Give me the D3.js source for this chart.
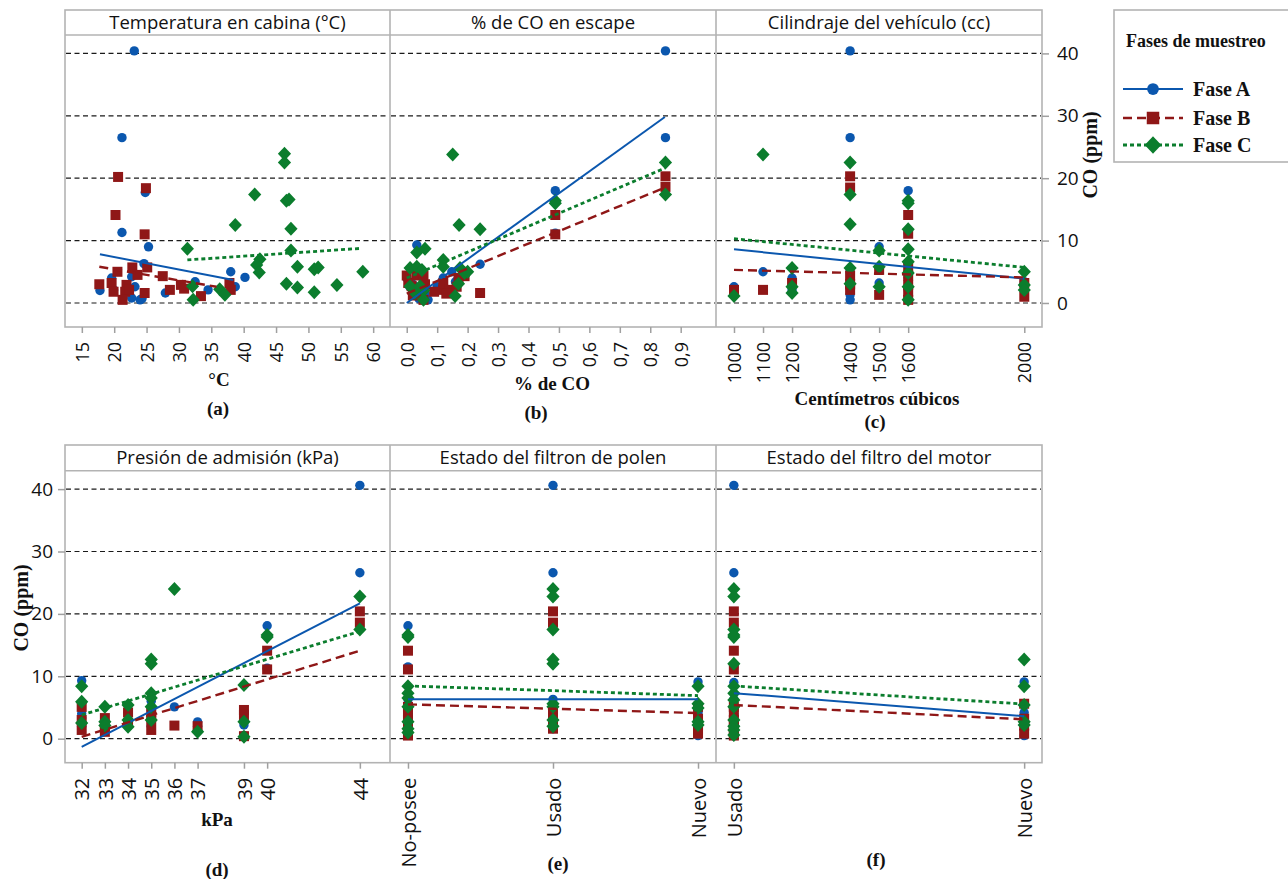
<!DOCTYPE html>
<html>
<head>
<meta charset="utf-8">
<title>CO (ppm) por fase de muestreo</title>
<script src="https://d3js.org/d3.v7.min.js"></script>
<style>
  body { margin: 0; background: #fff; }
  svg text { fill: #111; }
  .sans { font-family: "Open Sans", "Noto Sans", sans-serif; }
  .serif { font-family: "Liberation Serif", "Times New Roman", serif; font-weight: bold; }
  .tick line { stroke: #a0a0a0; stroke-width: 1.5; }
</style>
</head>
<body>
<svg id="chart" width="1288" height="879"></svg>
<script>

// series names
var phases = ["Fase A", "Fase B", "Fase C"];
var yTicks = [0, 10, 20, 30, 40];

// (a) temperatura en cabina: [°C, CO ppm]
var tempTicks = [15, 20, 25, 30, 35, 40, 45, 50, 55, 60];
var temA = [[23.1,40.4],[21.2,26.5],[24.8,17.7],[21.2,11.3],[25.3,9.0],[24.6,6.3],[19.6,4.0],[17.8,2.0],[19.9,2.1],[22.7,4.2],
            [23.2,2.6],[22.7,0.8],[24.0,0.5],[24.3,0.7],[27.9,1.6],[32.5,3.4],[34.5,2.1],[38.0,5.0],[40.2,4.1],[38.7,2.6]];
var temB = [[20.6,20.2],[24.9,18.4],[20.2,14.1],[24.7,11.0],[22.8,5.7],[25.1,5.7],[20.5,5.0],[23.6,4.5],[27.5,4.3],[17.7,3.0],
            [19.6,3.2],[21.9,2.9],[19.9,1.8],[21.7,1.8],[22.3,2.1],[21.3,0.5],[24.7,1.6],[28.6,2.1],[30.3,2.9],[30.8,2.3],
            [33.4,1.1],[37.8,3.2],[38.0,2.1]];
var temC = [[31.3,8.7],[41.7,17.4],[38.7,12.5],[46.3,23.9],[46.3,22.5],[46.6,16.4],[47.0,16.6],[47.3,11.9],[47.3,8.4],[42.5,7.0],
            [42.0,6.1],[42.4,4.9],[48.3,5.8],[50.9,5.4],[51.5,5.7],[58.4,5.0],[46.6,3.1],[48.3,2.5],[50.9,1.7],[54.4,2.9],
            [32.1,2.7],[32.2,0.5],[36.3,2.2],[37.1,1.3]];
var fitTemA = [[17.8,7.8],[38.4,3.7]];
var fitTemB = [[17.7,5.8],[35.8,2.6]];
var fitTemC = [[31.3,6.9],[58.1,8.75]];

// (b) % de CO en escape
var coTicks = [0, 0.1, 0.2, 0.3, 0.4, 0.5, 0.6, 0.7, 0.8, 0.9];
var coA = [[0.85,40.4],[0.85,26.5],[0.488,18.0],[0.488,11.2],[0.241,6.2],[0.033,9.3],[0.12,4.0],[0.148,5.0],[0.0,4.0],[0.05,2.0],
           [0.02,3.0],[0.06,1.5],[0.04,0.7],[0.1,2.6],[0.07,0.5],[0.03,2.1],[0.19,4.3],[0.16,3.4],[0.01,2.6],[0.05,4.2]];
var coB = [[0.85,20.3],[0.85,18.6],[0.488,14.1],[0.488,11.0],[0.241,1.6],[0.12,2.1],[0.12,3.2],[0.14,2.1],[0.164,2.6],[0.19,4.3],
           [0.17,4.0],[0.0,4.4],[0.033,4.4],[0.055,4.4],[0.016,2.7],[0.044,1.6],[0.055,0.5],[0.03,2.0],[0.005,3.2],[0.13,1.5],
           [0.06,3.0],[0.09,1.8],[0.02,1.2]];
var coC = [[0.85,22.5],[0.85,17.4],[0.488,16.4],[0.488,16.0],[0.151,23.8],[0.172,12.5],[0.241,11.8],[0.06,8.7],[0.033,8.1],[0.12,6.9],
           [0.12,5.8],[0.175,5.6],[0.19,4.8],[0.17,3.1],[0.159,1.1],[0.011,5.6],[0.033,5.8],[0.05,5.3],[0.011,2.7],[0.027,1.6],
           [0.044,2.7],[0.055,2.0],[0.055,0.5],[0.2,5.0]];
var fitCoA = [[0.0,0.0],[0.848,29.8]];
var fitCoB = [[0.0,1.5],[0.848,18.5]];
var fitCoC = [[0.0,4.0],[0.848,21.6]];

// (c) cilindraje del vehiculo
var ccTicks = [1000, 1100, 1200, 1400, 1500, 1600, 2000];
var ccA = [[1000,2.6],[1100,5.0],[1200,4.0],[1400,40.4],[1400,26.5],[1400,1.3],[1400,5.0],[1400,2.5],[1500,9.0],[1500,3.2],
           [1600,18.0],[1600,6.3],[1600,4.1],[1600,2.1],[1600,0.7],[1600,11.2],[2000,3.4],[2000,2.0],[1200,2.1],[1400,0.5]];
var ccB = [[1000,2.1],[1100,2.1],[1200,3.2],[1400,20.3],[1400,18.5],[1400,4.4],[1400,2.1],[1500,5.3],[1500,1.3],[1600,14.1],
           [1600,11.1],[1600,4.4],[1600,0.5],[1600,2.9],[1600,5.7],[2000,3.2],[2000,1.0],[1400,3.0],[1600,1.8]];
var ccC = [[1000,1.1],[1100,23.8],[1200,5.6],[1200,2.6],[1200,1.6],[1400,22.5],[1400,17.4],[1400,12.6],[1400,5.6],[1400,3.1],
           [1500,8.4],[1500,5.8],[1500,2.6],[1600,16.4],[1600,16.0],[1600,11.8],[1600,8.6],[1600,6.6],[1600,4.8],[1600,2.6],
           [1600,0.5],[2000,5.0],[2000,2.9],[2000,2.1]];
var fitCcA = [[1000,8.6],[2000,3.9]];
var fitCcB = [[1000,5.3],[2000,4.1]];
var fitCcC = [[1000,10.3],[2000,5.7]];

// (d) presion de admision
var kpaTicks = [32, 33, 34, 35, 36, 37, 39, 40, 44];
var kpaA = [[32,9.3],[32,3.3],[34,4.2],[36,5.1],[37,2.7],[39,2.2],[40,18.1],[44,40.6],[44,26.6],[33,2.5],
            [35,4.5],[35,2.0],[34,2.0],[39,0.5],[32,2.0],[33,1.2],[35,6.0],[37,2.0],[40,11.3],[32,4.0]];
var kpaB = [[32,5.1],[32,1.4],[33,3.3],[33,1.1],[34,4.2],[35,4.2],[35,1.4],[36,2.1],[37,2.0],[39,4.6],
            [39,3.8],[39,0.4],[40,14.1],[40,11.1],[44,20.4],[44,18.6],[32,3.0],[34,2.5],[35,3.0],[33,2.0]];
var kpaC = [[32,8.4],[32,5.9],[32,2.5],[33,5.1],[33,2.7],[33,2.1],[34,5.4],[34,3.0],[34,1.9],[35,12.7],
            [35,12.0],[35,7.3],[35,6.5],[35,5.1],[35,3.0],[36,24.0],[37,1.1],[39,8.6],[39,2.7],[39,0.3],
            [40,16.6],[40,16.3],[44,22.8],[44,17.5]];
var fitKpaA = [[32,-1.3],[44,21.7]];
var fitKpaB = [[32,0.3],[44,14.1]];
var fitKpaC = [[32,3.8],[44,17.2]];

// (e) estado del filtro de polen
var polenCats = ["No-posee", "Usado", "Nuevo"];
var polenA = [["No-posee",18.1],["No-posee",11.5],["No-posee",6.3],["No-posee",4.0],["No-posee",2.6],["No-posee",2.0],["No-posee",0.7],["No-posee",3.4],
              ["Usado",40.6],["Usado",26.6],["Usado",6.3],["Usado",5.0],["Usado",2.1],["Usado",4.1],["Usado",1.6],
              ["Nuevo",9.1],["Nuevo",2.6],["Nuevo",0.5],["Nuevo",4.2],["Nuevo",2.0]];
var polenB = [["No-posee",14.1],["No-posee",11.1],["No-posee",5.1],["No-posee",4.2],["No-posee",3.0],["No-posee",2.0],["No-posee",1.0],["No-posee",0.5],
              ["Usado",20.4],["Usado",18.6],["Usado",4.6],["Usado",2.2],["Usado",1.6],["Usado",3.3],
              ["Nuevo",5.1],["Nuevo",0.8],["Nuevo",3.2],["Nuevo",2.1],["Nuevo",1.5]];
var polenC = [["No-posee",16.6],["No-posee",16.3],["No-posee",8.4],["No-posee",7.3],["No-posee",6.5],["No-posee",5.1],["No-posee",2.7],["No-posee",1.0],["No-posee",1.6],
              ["Usado",24.0],["Usado",22.8],["Usado",17.5],["Usado",12.7],["Usado",12.0],["Usado",5.6],["Usado",5.1],["Usado",3.0],["Usado",2.0],
              ["Nuevo",8.4],["Nuevo",5.6],["Nuevo",4.9],["Nuevo",2.7],["Nuevo",2.2]];
var fitPolenA = [6.3, 6.3, 6.3];
var fitPolenB = [5.5, 4.8, 4.1];
var fitPolenC = [8.45, 7.7, 6.9];

// (f) estado del filtro del motor
var motorCats = ["Usado", "Nuevo"];
var motorA = [["Usado",40.6],["Usado",26.6],["Usado",18.1],["Usado",11.5],["Usado",9.0],["Usado",6.3],["Usado",5.0],["Usado",4.0],
              ["Usado",2.6],["Usado",2.0],["Usado",1.0],["Usado",0.5],["Nuevo",9.1],["Nuevo",4.2],["Nuevo",2.6],["Nuevo",0.5]];
var motorB = [["Usado",20.4],["Usado",18.6],["Usado",14.1],["Usado",11.1],["Usado",5.1],["Usado",4.2],["Usado",3.0],["Usado",2.0],
              ["Usado",1.0],["Usado",0.5],["Nuevo",5.6],["Nuevo",0.8],["Nuevo",3.2],["Nuevo",2.1]];
var motorC = [["Usado",24.0],["Usado",22.8],["Usado",17.5],["Usado",16.3],["Usado",16.6],["Usado",12.0],["Usado",8.4],["Usado",7.3],
              ["Usado",6.2],["Usado",5.1],["Usado",3.0],["Usado",2.0],["Usado",1.4],["Usado",0.6],
              ["Nuevo",12.7],["Nuevo",8.4],["Nuevo",5.4],["Nuevo",2.7],["Nuevo",2.2]];
var fitMotorA = [7.3, 3.6];
var fitMotorB = [5.4, 3.1];
var fitMotorC = [8.45, 5.55];

//
// styles and layout

var colors = ["#0b57ae", "#8f1717", "#0b7d2d"];
var dashes = [null, "9,5", "4,3"];
var widths = [2, 2.4, 2.8];
var frameColor = "#b3b3b3";

var cols = [[65, 390], [390, 716], [716, 1042]];
var rows = [{top: 10, head: 35, bottom: 327, fs: 18},
            {top: 445, head: 470.7, bottom: 762.7, fs: 20}];
rows.forEach(function(r) {
  r.y = d3.scaleLinear().domain([-3.85, 42.95]).range([r.bottom, r.head]);
});

var comma1 = function(d) { return d3.format(".1f")(d).replace(".", ","); };

function pairs(cats, vals) {
  return cats.map(function(c, i) { return [c, vals[i]]; });
}

var panels = [
  {row: 0, col: 0, title: "Temperatura en cabina (°C)",
   x: d3.scaleLinear().domain([12.4, 62.6]), ticks: tempTicks, fmt: d3.format("d"),
   data: [temA, temB, temC], fits: [fitTemA, fitTemB, fitTemC],
   xlab: "°C", xlabPos: [219, 386], tag: "(a)", tagPos: [218, 415]},
  {row: 0, col: 1, title: "% de CO en escape",
   x: d3.scaleLinear().domain([-0.055, 1.016]), ticks: coTicks, fmt: comma1,
   data: [coA, coB, coC], fits: [fitCoA, fitCoB, fitCoC],
   xlab: "% de CO", xlabPos: [552, 390], tag: "(b)", tagPos: [536, 419]},
  {row: 0, col: 2, title: "Cilindraje del vehículo (cc)",
   x: d3.scaleLinear().domain([938, 2061]), ticks: ccTicks, fmt: d3.format("d"),
   data: [ccA, ccB, ccC], fits: [fitCcA, fitCcB, fitCcC],
   xlab: "Centímetros cúbicos", xlabPos: [877, 405], tag: "(c)", tagPos: [875, 428]},
  {row: 1, col: 0, title: "Presión de admisión (kPa)",
   x: d3.scaleLinear().domain([31.28, 45.3]), ticks: kpaTicks, fmt: d3.format("d"),
   data: [kpaA, kpaB, kpaC], fits: [fitKpaA, fitKpaB, fitKpaC],
   xlab: "kPa", xlabPos: [217, 826], tag: "(d)", tagPos: [217, 876]},
  {row: 1, col: 1, title: "Estado del filtron de polen",
   x: d3.scalePoint().domain(polenCats).padding(0.124), ticks: polenCats, fmt: String,
   data: [polenA, polenB, polenC],
   fits: [pairs(polenCats, fitPolenA), pairs(polenCats, fitPolenB), pairs(polenCats, fitPolenC)],
   xlab: "", tag: "(e)", tagPos: [558, 870]},
  {row: 1, col: 2, title: "Estado del filtro del motor",
   x: d3.scalePoint().domain(motorCats).padding(0.0615), ticks: motorCats, fmt: String,
   data: [motorA, motorB, motorC],
   fits: [pairs(motorCats, fitMotorA), pairs(motorCats, fitMotorB), pairs(motorCats, fitMotorC)],
   xlab: "", tag: "(f)", tagPos: [876, 866]}
];

var svg = d3.select("#chart");

// marker drawing: circle / square / diamond
function marker(sel, k, s) {
  s = s || 1;
  if (k === 0) {
    sel.append("circle").attr("r", 4.7 * s).attr("fill", colors[0]);
  } else if (k === 1) {
    sel.append("rect").attr("x", -5 * s).attr("y", -5 * s)
       .attr("width", 10 * s).attr("height", 10 * s).attr("fill", colors[1]);
  } else {
    sel.append("path")
       .attr("d", "M0," + (-7 * s) + "L" + (6.6 * s) + ",0L0," + (7 * s) + "L" + (-6.6 * s) + ",0Z")
       .attr("fill", colors[2]);
  }
}

// frames and header strips
rows.forEach(function(r) {
  var g = svg.append("g");
  g.append("rect").attr("x", cols[0][0]).attr("y", r.top)
   .attr("width", cols[2][1] - cols[0][0]).attr("height", r.bottom - r.top)
   .attr("fill", "none").attr("stroke", frameColor).attr("stroke-width", 1.6);
  g.append("line").attr("x1", cols[0][0]).attr("x2", cols[2][1])
   .attr("y1", r.head).attr("y2", r.head)
   .attr("stroke", frameColor).attr("stroke-width", 1.6);
  [cols[1][0], cols[2][0]].forEach(function(xv) {
    g.append("line").attr("x1", xv).attr("x2", xv).attr("y1", r.top).attr("y2", r.bottom)
     .attr("stroke", frameColor).attr("stroke-width", 1.6);
  });
});

// panels
panels.forEach(function(p) {
  var r = rows[p.row], c = cols[p.col], y = r.y, x = p.x.range(c);
  var g = svg.append("g");

  // header title
  g.append("text").attr("class", "sans")
   .attr("x", (c[0] + c[1]) / 2).attr("y", (r.top + r.head) / 2 + 6.5)
   .attr("text-anchor", "middle").attr("font-size", 18.5)
   .text(p.title);

  // reference lines
  g.selectAll(".grid").data(yTicks).enter().append("line")
   .attr("x1", c[0] + 1).attr("x2", c[1] - 1)
   .attr("y1", function(d) { return y(d); }).attr("y2", function(d) { return y(d); })
   .attr("stroke", "#1a1a1a").attr("stroke-width", 1.2).attr("stroke-dasharray", "5,3.5");

  // points
  p.data.forEach(function(pts, k) {
    g.selectAll(".m" + k).data(pts).enter().append("g")
     .attr("transform", function(d) { return "translate(" + x(d[0]) + "," + y(d[1]) + ")"; })
     .each(function() { marker(d3.select(this), k); });
  });

  // fitted lines
  var line = d3.line().x(function(d) { return x(d[0]); }).y(function(d) { return y(d[1]); });
  p.fits.forEach(function(f, k) {
    g.append("path").datum(f).attr("d", line)
     .attr("fill", "none").attr("stroke", colors[k])
     .attr("stroke-width", widths[k])
     .attr("stroke-dasharray", dashes[k]);
  });

  // x axis
  var ax = g.append("g").attr("transform", "translate(0," + r.bottom + ")")
    .call(d3.axisBottom(x).tickValues(p.ticks).tickSize(6).tickFormat(p.fmt));
  ax.select(".domain").remove();
  ax.selectAll("text").attr("class", "sans").attr("font-size", r.fs).attr("fill", "#111")
    .attr("transform", "rotate(-90)").attr("text-anchor", "end")
    .attr("x", -15).attr("y", 0).attr("dy", "0.36em");

  if (p.xlab) {
    g.append("text").attr("class", "serif").attr("font-size", 19)
     .attr("x", p.xlabPos[0]).attr("y", p.xlabPos[1]).attr("text-anchor", "middle")
     .text(p.xlab);
  }
  g.append("text").attr("class", "serif").attr("font-size", 19)
   .attr("x", p.tagPos[0]).attr("y", p.tagPos[1]).attr("text-anchor", "middle")
   .text(p.tag);
});

// y axes: right side on top row, left side on bottom row
var ayR = svg.append("g").attr("transform", "translate(" + cols[2][1] + ",0)")
  .call(d3.axisRight(rows[0].y).tickValues(yTicks).tickSize(7).tickPadding(8));
var ayL = svg.append("g").attr("transform", "translate(" + cols[0][0] + ",0)")
  .call(d3.axisLeft(rows[1].y).tickValues(yTicks).tickSize(7).tickPadding(5));
[ayR, ayL].forEach(function(a) {
  a.select(".domain").remove();
  a.selectAll("text").attr("class", "sans").attr("font-size", 19).attr("fill", "#111");
});

svg.append("text").attr("class", "serif").attr("font-size", 20)
   .attr("transform", "translate(1097,155) rotate(-90)").attr("text-anchor", "middle")
   .text("CO (ppm)");
svg.append("text").attr("class", "serif").attr("font-size", 20)
   .attr("transform", "translate(28,608) rotate(-90)").attr("text-anchor", "middle")
   .text("CO (ppm)");

// legend
var lg = svg.append("g");
lg.append("rect").attr("x", 1114).attr("y", 10).attr("width", 200).attr("height", 152)
  .attr("fill", "#fff").attr("stroke", frameColor).attr("stroke-width", 1.6);
lg.append("text").attr("class", "serif").attr("font-size", 18)
  .attr("x", 1126).attr("y", 47).text("Fases de muestreo");
var legY = [89, 118, 145];
phases.forEach(function(name, k) {
  var e = lg.append("g").attr("transform", "translate(0," + legY[k] + ")");
  e.append("line").attr("x1", 1123).attr("x2", 1183)
   .attr("stroke", colors[k]).attr("stroke-width", widths[k]).attr("stroke-dasharray", dashes[k]);
  var m = e.append("g").attr("transform", "translate(1153,0)");
  marker(m, k, 1.25);
  e.append("text").attr("class", "serif").attr("font-size", 20)
   .attr("x", 1193).attr("y", 0).attr("dy", "0.35em").text(name);
});

</script>
</body>
</html>
